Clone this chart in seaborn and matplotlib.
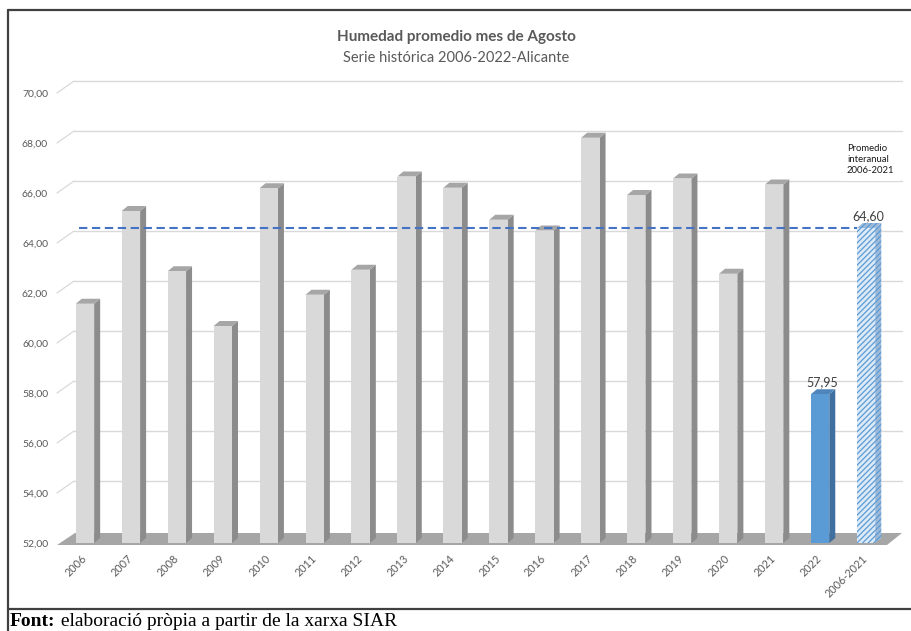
import numpy as np
import pandas as pd
import matplotlib
matplotlib.use("Agg")
import matplotlib.pyplot as plt
import seaborn as sns
from matplotlib.patches import Polygon
from matplotlib.lines import Line2D
from matplotlib.transforms import IdentityTransform

# ---------------- data ----------------
categories = ["2006", "2007", "2008", "2009", "2010", "2011", "2012", "2013", "2014",
              "2015", "2016", "2017", "2018", "2019", "2020", "2021", "2022", "2006-2021"]
humidity = [61.57, 65.28, 62.87, 60.68, 66.19, 61.93, 62.93, 66.66, 66.21,
            64.93, 64.50, 68.21, 65.92, 66.58, 62.77, 66.34, 57.95, 64.60]
average_value = 64.60
y_ticks = [52, 54, 56, 58, 60, 62, 64, 66, 68, 70]
label_2022 = "57,95"
label_avg = "64,60"

title = "Humedad promedio mes de Agosto"
subtitle = "Serie histórica 2006-2022-Alicante"
legend_note = "Promedio\ninteranual\n2006-2021"
source_bold = "Font:"
source_rest = " elaboració pròpia a partir de la xarxa SIAR"

# ---------------- style ----------------
sns.set_theme(style="white")
plt.rcParams["font.family"] = ["Lato", "DejaVu Sans"]
plt.rcParams["hatch.linewidth"] = 0.9

GRAY_FRONT, GRAY_SIDE, GRAY_TOP = "#D9D9D9", "#8C8C8C", "#A6A6A6"
BLUE_FRONT, BLUE_SIDE, BLUE_TOP = "#5B9BD5", "#3F6F9E", "#4E86BC"
HATCH_FACE, HATCH_SIDE, HATCH_COL = "#DCEAF7", "#9DB9D8", "#5B9BD5"
TXT = "#595959"

W, H = 911, 631
fig = plt.figure(figsize=(W / 100, H / 100), dpi=100)
fig.patch.set_facecolor("white")
ax = fig.add_axes([62 / W, 88 / H, 827 / W, 450 / H])
ax.set_facecolor("none")

df = pd.DataFrame({"cat": categories, "val": humidity})
palette = {c: GRAY_FRONT for c in categories}
palette["2022"] = BLUE_FRONT
palette["2006-2021"] = HATCH_FACE
sns.barplot(data=df, x="cat", y="val", hue="cat", palette=palette, order=categories,
            hue_order=categories, width=0.40, saturation=1, legend=False,
            linewidth=0, edgecolor="none", ax=ax, zorder=3)

ax.set_xlim(-0.5, len(categories) - 0.5)
ax.set_ylim(y_ticks[0], y_ticks[-1])
ax.set_yticks(y_ticks)
ax.set_yticklabels([f"{v:.2f}".replace(".", ",") for v in y_ticks])
ax.set_xlabel("")
ax.set_ylabel("")
for s in ax.spines.values():
    s.set_visible(False)
ax.tick_params(axis="y", length=0, pad=10, labelsize=7.5, labelcolor=TXT)
ax.tick_params(axis="x", length=0, pad=10, labelsize=7.8, labelcolor=TXT)
for lab in ax.get_xticklabels():
    lab.set_rotation(45)
    lab.set_ha("right")
    lab.set_va("center")
    lab.set_rotation_mode("anchor")

# ---------------- 3D look ----------------
DX, DY = 6, 5          # bar depth in px
BX, BY = 17, 12        # back wall offset in px
to_px = ax.transData.transform
ident = IdentityTransform()
ybase = ax.get_ylim()[0]

bars = sorted(ax.patches, key=lambda p: p.get_x())
bars[-1].set_hatch("//////")
bars[-1].set_edgecolor(HATCH_COL)
bars[-1].set_linewidth(0)

# floor
x_left_px = to_px((-0.5, ybase))[0]
x_right_px = to_px((len(categories) - 0.5, ybase))[0]
y0_px = to_px((0, ybase))[1]
floor = Polygon([(x_left_px - 5, y0_px - 2), (x_right_px - 2, y0_px - 2),
                 (x_right_px + 13, y0_px + 10), (x_left_px + 13, y0_px + 10)],
                closed=True, facecolor="#A6A6A6", edgecolor="none",
                transform=ident, zorder=1, clip_on=False)
ax.add_artist(floor)

# back-wall gridlines and diagonal connectors
for v in y_ticks[1:]:
    yp = to_px((0, v))[1]
    ax.add_artist(Line2D([x_left_px - 5 + BX, x_right_px - 2 + BX - 2], [yp + BY, yp + BY],
                         color="#D9D9D9", lw=1.0, transform=ident, zorder=0.5, clip_on=False))
    ax.add_artist(Line2D([x_left_px - 5, x_left_px - 5 + BX], [yp, yp + BY],
                         color="#D9D9D9", lw=0.9, transform=ident, zorder=0.5, clip_on=False))

for i, p in enumerate(bars):
    x0 = p.get_x()
    x1 = x0 + p.get_width()
    (px0, pyb) = to_px((x0, ybase))
    (px1, pyt) = to_px((x1, p.get_height()))
    if categories[i] == "2022":
        side, top, hatch = BLUE_SIDE, BLUE_TOP, None
    elif categories[i] == "2006-2021":
        side, top, hatch = HATCH_SIDE, HATCH_SIDE, "//////"
    else:
        side, top, hatch = GRAY_SIDE, GRAY_TOP, None
    side_poly = Polygon([(px1, pyb), (px1, pyt), (px1 + DX, pyt + DY), (px1 + DX, pyb + DY)],
                        closed=True, facecolor=side, edgecolor=HATCH_COL if hatch else "none",
                        linewidth=0, hatch=hatch, transform=ident, zorder=2.9, clip_on=False)
    top_poly = Polygon([(px0, pyt), (px1, pyt), (px1 + DX, pyt + DY), (px0 + DX, pyt + DY)],
                       closed=True, facecolor=top, edgecolor=HATCH_COL if hatch else "none",
                       linewidth=0, hatch=hatch, transform=ident, zorder=2.9, clip_on=False)
    ax.add_artist(side_poly)
    ax.add_artist(top_poly)

# average dashed line
avg_end = bars[-1].get_x()
ax.hlines(average_value, -0.13, avg_end, colors="#4472C4", linestyles=(0, (4, 2.2)),
          lw=1.5, zorder=5)

# data labels
b22 = bars[categories.index("2022")]
ax.annotate(label_2022, (b22.get_x() + b22.get_width() / 2 + 0.05, humidity[categories.index("2022")]),
            xytext=(0, 12), textcoords="offset pixels", ha="center", va="center",
            fontsize=9, color="#404040", zorder=6)
bav = bars[-1]
ax.annotate(label_avg, (bav.get_x() + bav.get_width() / 2 + 0.05, humidity[-1]),
            xytext=(0, 12), textcoords="offset pixels", ha="center", va="center",
            fontsize=9, color="#404040", zorder=6)

# legend note
fig.text(847 / W, 1 - 144 / H, legend_note, ha="left", va="top", fontsize=6.8,
         color="#1a1a1a", linespacing=1.3,
         bbox=dict(facecolor="white", edgecolor="none", pad=4), zorder=6)

# titles
fig.text(456 / W, 1 - 37 / H, title, ha="center", va="center", fontsize=11,
         fontweight="bold", color=TXT)
fig.text(456 / W, 1 - 58 / H, subtitle, ha="center", va="center", fontsize=10.5,
         color=TXT)

# frame lines
fig.add_artist(Line2D([8 / W, 1.0], [1 - 10 / H, 1 - 10 / H], color="#404040", lw=1.6,
                      transform=fig.transFigure))
fig.add_artist(Line2D([8 / W, 8 / W], [0, 1 - 10 / H], color="#404040", lw=1.6,
                      transform=fig.transFigure))
fig.add_artist(Line2D([8 / W, 1.0], [1 - 609 / H, 1 - 609 / H], color="#404040", lw=1.6,
                      transform=fig.transFigure))

# source caption
t1 = fig.text(10 / W, 1 - 625.5 / H, source_bold, ha="left", va="baseline", fontsize=14,
              fontweight="bold", family=["Liberation Serif", "DejaVu Serif"], color="black")
renderer = fig.canvas.get_renderer()
bb = t1.get_window_extent(renderer=renderer)
fig.text(bb.x1 / W, 1 - 625.5 / H, source_rest, ha="left", va="baseline", fontsize=14,
         family=["Liberation Serif", "DejaVu Serif"], color="black")

fig.savefig("out.png", dpi=100, facecolor="white")
